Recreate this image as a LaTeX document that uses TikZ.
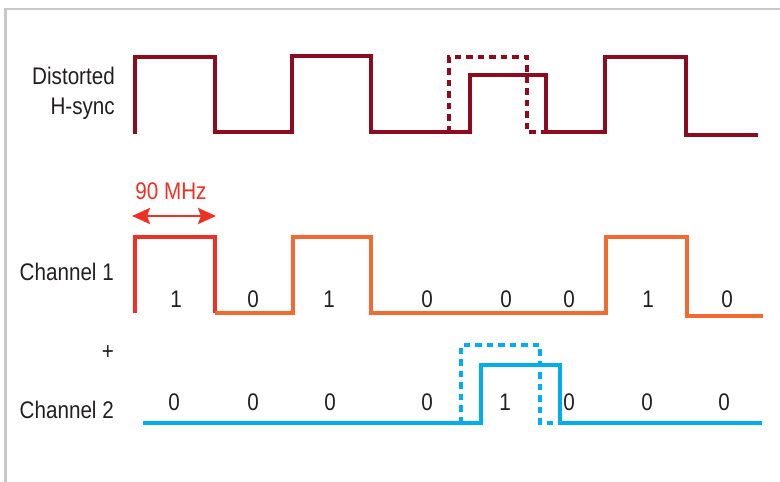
\documentclass[tikz,border=0pt]{standalone}
\usepackage{fontspec}
\setmainfont[FakeStretch=0.86]{Liberation Sans}
\usepackage{xcolor}
\usepackage{tikz}
\usetikzlibrary{arrows.meta, positioning}

\definecolor{syncred}{HTML}{8E0A1E}
\definecolor{bitred}{HTML}{EE3124}
\definecolor{bitorange}{HTML}{F26A30}
\definecolor{bitblue}{HTML}{00AEEF}
\definecolor{txtgray}{HTML}{231F20}
\definecolor{framegray}{HTML}{C8C8C8}

\begin{document}
\begin{tikzpicture}[x=1pt, y=-1pt, >={Stealth[length=18pt, width=16pt, inset=3pt]},
    wave/.style={line width=3.6pt, line join=miter},
    ghost/.style={line width=3.6pt, dash pattern=on 6.5pt off 5pt},
    lbl/.style={font=\fontsize{24}{30}\selectfont, text=txtgray, inner sep=0pt},
    bit/.style={font=\fontsize{24}{26}\selectfont, text=txtgray, inner sep=0pt}]
  \useasboundingbox (0,0) rectangle (780,482);
  \draw[framegray, line width=2.6pt] (5.5,482) -- (5.5,9) -- (780,9);   % frame
  % distorted h-sync
  \node[lbl, anchor=east, align=right] (hsync) at (115,93) {Distorted\\H-sync};
  \draw[wave, syncred] (135,134) -- (135,57) -- (215,57) -- (215,132) -- (292,132)
    -- (292,56) -- (371,56) -- (371,132) -- (470,132) -- (470,75) -- (546,75)
    -- (546,132) -- (605,132) -- (605,57) -- (686,57) -- (686,135) -- (758,135);
  \draw[ghost, syncred] (449,132) -- (449,57) -- (527,57) -- (527,132) -- (546,132);
  % channel 1
  \node[lbl, anchor=east] (chone) at (114,272) {Channel 1};
  \draw[wave, bitred] (135,313) -- (135,237) -- (215,237) -- (215,313);
  \draw[wave, bitorange] (215,313) -- (293,313) -- (293,237) -- (371,237) -- (371,313)
    -- (606,313) -- (606,237) -- (687,237) -- (687,316) -- (763,316);
  \foreach \x/\b [count=\i] in {176/1, 253/0, 329/1, 427/0, 506/0, 569/0, 648/1, 727/0}
    \node[bit] (one\i) at (\x,299) {\b};
  % clock period
  \coordinate (pl) at (132,216);
  \coordinate (pr) at (216,216);
  \draw[<->, bitred, line width=2.6pt] (pl) -- (pr);
  \node[bit, text=bitred] (freq) at (171,191) {90 MHz};
  % channel 2
  \node[lbl, text=txtgray] (plus) at (108,353) {+};
  \node[lbl, anchor=east] (chtwo) at (114,410) {Channel 2};
  \draw[wave, bitblue] (143,423) -- (481,423) -- (481,365) -- (560,365) -- (560,423)
    -- (762,423);
  \draw[ghost, bitblue] (461,423) -- (461,345) -- (540,345) -- (540,423) -- (560,423);
  \foreach \x/\b [count=\i] in {174/0, 253/0, 330/0, 427/0, 505/1, 569/0, 647/0, 724/0}
    \node[bit] (two\i) at (\x,402) {\b};
\end{tikzpicture}
\end{document}
